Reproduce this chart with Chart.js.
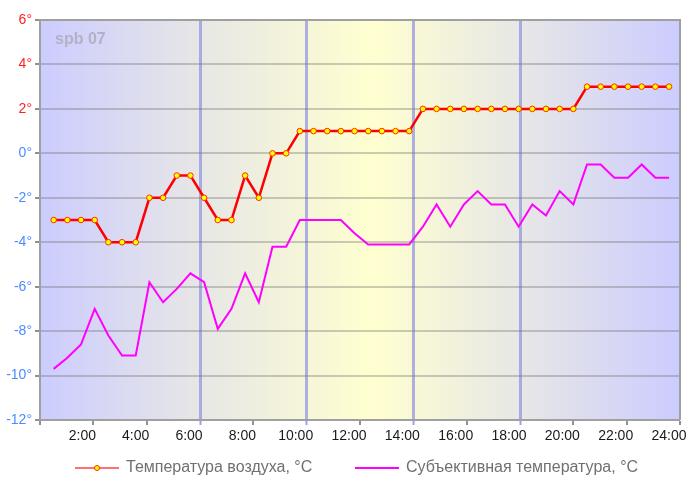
<!DOCTYPE html>
<html>
<head>
<meta charset="utf-8">
<script src="https://cdn.jsdelivr.net/npm/chart.js@4"></script>
<style>
  html, body { margin: 0; padding: 0; background: #fff; }
  #wrap { width: 687px; height: 487px; }
</style>
</head>
<body>
<div id="wrap"><canvas id="my-chart" width="687" height="487"></canvas></div>
<script>
// air temperature, half-hour observations
const airTemp = [-3, -3, -3, -3, -4, -4, -4, -2, -2, -1, -1, -2, -3, -3, -1, -2, 0, 0,
  1, 1, 1, 1, 1, 1, 1, 1, 1,
  2, 2, 2, 2, 2, 2, 2, 2, 2, 2, 2, 2,
  3, 3, 3, 3, 3, 3, 3];
// feels-like temperature
const feelsTemp = [-9.7, -9.2, -8.6, -7.0, -8.2, -9.1, -9.1, -5.8, -6.7, -6.1, -5.4, -5.8, -7.9, -7.0, -5.4, -6.7, -4.2, -4.2,
  -3.0, -3.0, -3.0, -3.0, -3.6, -4.1, -4.1, -4.1, -4.1,
  -3.3, -2.3, -3.3, -2.3, -1.7, -2.3, -2.3, -3.3, -2.3, -2.8, -1.7, -2.3,
  -0.5, -0.5, -1.1, -1.1, -0.5, -1.1, -1.1];
const seriesNames = ['Температура воздуха, °C', 'Субъективная температура, °C'];
const hourTicks = [2, 4, 6, 8, 10, 12, 14, 16, 18, 20, 22, 24];
const markHours = [6, 10, 14, 18];
const stationName = 'spb 07';

const FONT = "'Liberation Sans', Arial, sans-serif";

// sample number -> point
const toPoints = arr => arr.map((v, i) => ({ x: i + 1, y: v }));

const bgPlugin = {
  id: 'bg',
  beforeDraw(chart) {
    const { ctx, chartArea: a } = chart;
    const g = ctx.createLinearGradient(a.left, 0, a.right, 0);
    g.addColorStop(0, '#ccccff');
    g.addColorStop(0.25, '#e7e7e6');
    g.addColorStop(0.52, '#ffffd0');
    g.addColorStop(0.75, '#e7e7e6');
    g.addColorStop(1, '#ccccff');
    ctx.save();
    ctx.fillStyle = g;
    ctx.fillRect(a.left, a.top, a.right - a.left, a.bottom - a.top);
    // station label
    ctx.fillStyle = '#b2b2c6';
    ctx.font = 'bold 16px ' + FONT;
    ctx.textBaseline = 'middle';
    ctx.fillText(stationName, a.left + 15, a.top + 20);
    ctx.restore();
  },
  afterDraw(chart) {
    const { ctx, chartArea: a } = chart;
    ctx.save();
    // top and right frame
    ctx.strokeStyle = '#a0a0a0';
    ctx.lineWidth = 2;
    ctx.beginPath();
    ctx.moveTo(a.left, a.top);
    ctx.lineTo(a.right, a.top);
    ctx.lineTo(a.right, a.bottom);
    ctx.stroke();

    // legend
    const ds = chart.data.datasets;
    const ly = 468;
    const items = [{ x: 75, ds: ds[0], line: '#ff7070', dot: true }, { x: 355, ds: ds[1], line: ds[1].borderColor, dot: false }];
    ctx.font = '16px ' + FONT;
    ctx.textBaseline = 'middle';
    items.forEach(it => {
      ctx.strokeStyle = it.line;
      ctx.lineWidth = 2;
      ctx.beginPath();
      ctx.moveTo(it.x, ly);
      ctx.lineTo(it.x + 44, ly);
      ctx.stroke();
      if (it.dot) {
        ctx.beginPath();
        ctx.arc(it.x + 22, ly, 2.5, 0, Math.PI * 2);
        ctx.fillStyle = '#ffff00';
        ctx.fill();
        ctx.strokeStyle = '#ff3000';
        ctx.lineWidth = 1;
        ctx.stroke();
      }
      ctx.fillStyle = '#707070';
      ctx.fillText(it.ds.label, it.x + 51, ly);
    });
    ctx.restore();
  }
};

const ctx = document.getElementById('my-chart').getContext('2d');

new Chart(ctx, {
  type: 'line',
  data: {
    datasets: [
      {
        label: seriesNames[0],
        data: toPoints(airTemp),
        borderColor: '#ff0000',
        borderWidth: 2.5,
        pointRadius: 2.8,
        pointBackgroundColor: '#ffff00',
        pointBorderColor: '#ff3000',
        pointBorderWidth: 1,
        xAxisID: 'x',
        order: 1
      },
      {
        label: seriesNames[1],
        data: toPoints(feelsTemp),
        borderColor: '#ff00ff',
        borderWidth: 2,
        pointRadius: 0,
        xAxisID: 'x',
        order: 2
      }
    ]
  },
  options: {
    responsive: false,
    animation: false,
    layout: { padding: { top: 20, right: 7, left: 0, bottom: 37 } },
    plugins: {
      legend: { display: false },
      tooltip: { enabled: false }
    },
    scales: {
      x: {
        type: 'linear',
        display: false,
        min: 0,
        max: 46.8
      },
      time: {
        type: 'linear',
        position: 'bottom',
        min: 0,
        max: 24,
        afterBuildTicks(scale) {
          scale.ticks = [0].concat(hourTicks).map(v => ({ value: v }));
        },
        afterFit(scale) {
          scale.height = 30;
          scale.paddingLeft = 0;
          scale.paddingRight = 0;
        },
        border: { color: '#a0a0a0', width: 2 },
        grid: {
          drawOnChartArea: true,
          tickLength: 5,
          color: c => markHours.includes(c.tick && c.tick.value) ? 'rgba(150,150,225,0.75)' : 'rgba(0,0,0,0)',
          lineWidth: c => markHours.includes(c.tick && c.tick.value) ? 3 : 0,
          tickColor: c => markHours.includes(c.tick && c.tick.value) ? 'rgba(150,150,225,0.9)' : '#909090',
          tickWidth: 2
        },
        ticks: {
          autoSkip: false,
          maxRotation: 0,
          padding: 3,
          labelOffset: -11,
          color: '#1a1a1a',
          font: { family: FONT, size: 14 },
          callback: v => v === 0 ? '' : v + ':00'
        }
      },
      y: {
        min: -12,
        max: 6,
        afterFit(scale) { scale.width = 40; },
        border: { color: '#a0a0a0', width: 2 },
        grid: {
          color: 'rgba(110,110,110,0.35)',
          lineWidth: 2,
          tickLength: 5,
          tickColor: '#909090'
        },
        ticks: {
          stepSize: 2,
          padding: 3,
          font: { family: FONT, size: 14 },
          color: c => c.tick.value > 0 ? '#ff2020' : '#4a8cff',
          callback: v => v + '°'
        }
      }
    }
  },
  plugins: [bgPlugin]
});
</script>
</body>
</html>
